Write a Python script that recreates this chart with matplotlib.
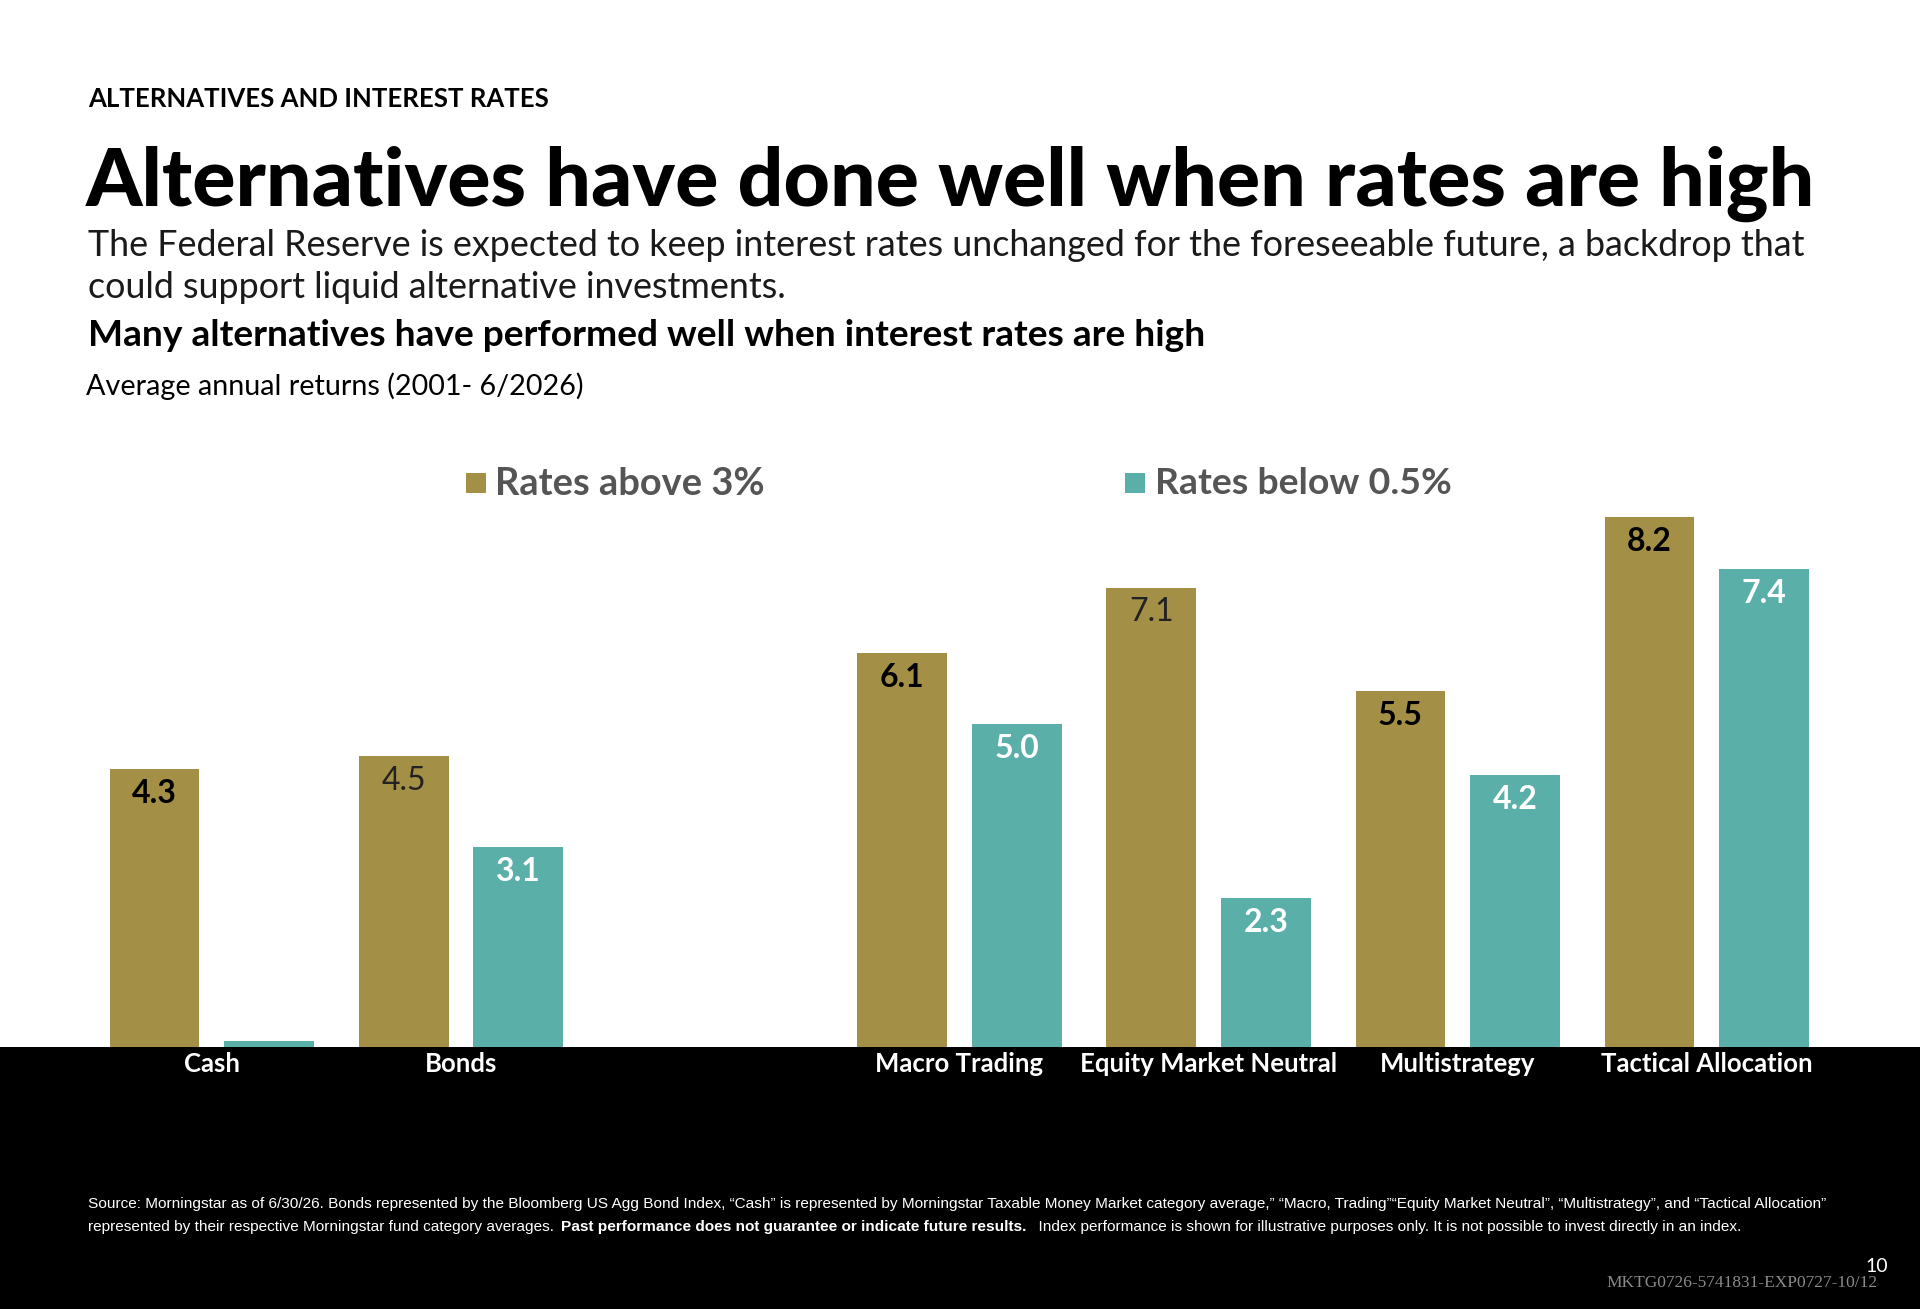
import matplotlib
matplotlib.use('Agg')
import matplotlib.pyplot as plt
from matplotlib.patches import Rectangle

# ---- data ----
categories = ['Cash', 'Bonds', '', 'Macro Trading', 'Equity Market Neutral',
              'Multistrategy', 'Tactical Allocation']
rates_above_3 = [4.3, 4.5, None, 6.1, 7.1, 5.5, 8.2]
rates_below_05 = [0.1, 3.1, None, 5.0, 2.3, 4.2, 7.4]
show_below_label = [False, True, None, True, True, True, True]
# some labels in the source are drawn in a light weight
light_above = [False, True, None, False, True, False, False]

series_names = ['Rates above 3%', 'Rates below 0.5%']
GOLD = '#A38F45'
TEAL = '#5AAFA9'

W, H = 1920, 1309
DPI = 100
FONT = ['Lato', 'DejaVu Sans']
NARROW = ['Liberation Sans Narrow', 'Liberation Sans', 'DejaVu Sans']

plt.rcParams['font.family'] = FONT

fig = plt.figure(figsize=(W / DPI, H / DPI), dpi=DPI)
fig.patch.set_facecolor('white')
renderer = fig.canvas.get_renderer()


def fx(px):
    return px / W


def fy(py):
    return 1 - py / H


def fit(t, width_px):
    """scale a text so its width matches width_px"""
    bb = t.get_window_extent(renderer)
    t.set_fontsize(t.get_fontsize() * width_px / bb.width)
    return t


# black band under the axis
fig.patches.append(Rectangle((0, 0), 1, fy(1047), transform=fig.transFigure,
                             facecolor='black', edgecolor='none', zorder=-1))

# ---- headings ----
t = fig.text(fx(88), fy(99), 'ALTERNATIVES AND INTEREST RATES', fontsize=16,
             weight='bold', va='center', ha='left', color='black')
fit(t, 460)
t = fig.text(fx(86), fy(184), 'Alternatives have done well when rates are high',
             fontsize=55, weight='black', va='center', ha='left', color='black')
fit(t, 1726)
t = fig.text(fx(88), fy(246), 'The Federal Reserve is expected to keep interest rates '
             'unchanged for the foreseeable future, a backdrop that',
             fontsize=23, va='center', ha='left', color='#1a1a1a')
fit(t, 1724)
fig.text(fx(88), fy(287), 'could support liquid alternative investments.',
         fontsize=t.get_fontsize(), va='center', ha='left', color='#1a1a1a')
t = fig.text(fx(88), fy(336), 'Many alternatives have performed well when interest rates are high',
             fontsize=22, weight='bold', va='center', ha='left', color='black')
fit(t, 1117)
t = fig.text(fx(86), fy(386), 'Average annual returns (2001- 6/2026)',
             fontsize=17, va='center', ha='left', color='black')
fit(t, 498)

# ---- legend ----
for (sx, tx, name, col) in [(466, 495, series_names[0], GOLD),
                            (1125, 1155, series_names[1], TEAL)]:
    fig.patches.append(Rectangle((fx(sx), fy(493)), fx(20), 20 / H,
                                 transform=fig.transFigure, facecolor=col,
                                 edgecolor='none'))
    t = fig.text(fx(tx), fy(484), name, fontsize=24, weight='bold',
                 color='#555555', va='center', ha='left')
    fit(t, 270 if col == GOLD else 297)

# ---- bars ----
ax = fig.add_axes([0, fy(1047), 1, (1047 - 400) / H])
ax.set_zorder(1)
ax.set_xlim(-0.85, 6.855)
ax.set_ylim(0, 10.006)
ax.axis('off')

bw = 0.36
off = 0.23
for i, cat in enumerate(categories):
    if rates_above_3[i] is None:
        continue
    a = rates_above_3[i]
    b = rates_below_05[i]
    ax.bar(i - off, a, width=bw, color=GOLD, edgecolor='none')
    ax.bar(i + off, b, width=bw, color=TEAL, edgecolor='none')
    if light_above[i]:
        ax.text(i - off, a - 0.38, f'{a:.1f}', ha='center', va='center',
                fontsize=23, color='#222222', weight='normal')
    else:
        ax.text(i - off, a - 0.38, f'{a:.1f}', ha='center', va='center',
                fontsize=23, color='black', weight='bold')
    if show_below_label[i]:
        ax.text(i + off, b - 0.38, f'{b:.1f}', ha='center', va='center',
                fontsize=23, color='white', weight='bold')
    ax.text(i, -0.27, cat, ha='center', va='center', fontsize=18.5,
            color='white', weight='bold', clip_on=False)

# ---- footnote ----
fs = 12.5
line1 = ('Source: Morningstar as of 6/30/26. Bonds represented by the Bloomberg US Agg '
         'Bond Index, \u201cCash\u201d is represented by Morningstar Taxable Money Market '
         'category average,\u201d \u201cMacro, Trading\u201d\u201cEquity Market Neutral\u201d, '
         '\u201cMultistrategy\u201d, and \u201cTactical Allocation\u201d')
t = fig.text(fx(88), fy(1204), line1, fontsize=fs, family=NARROW, color='white',
             va='center', ha='left')
fit(t, 1739)
fs = t.get_fontsize()

parts = [('represented by their respective Morningstar fund category averages. ', 'normal'),
         ('Past performance does not guarantee or indicate future results.', 'bold'),
         ('  Index performance is shown for illustrative purposes only. '
          'It is not possible to invest directly in an index.', 'normal')]
x0 = 88
for txt, wt in parts:
    t = fig.text(fx(x0), fy(1227), txt, fontsize=fs, family=NARROW, weight=wt,
                 color='white', va='center', ha='left')
    bb = t.get_window_extent(renderer)
    x0 += bb.width + 3

fig.text(fx(1888), fy(1266), '10', fontsize=14, color='white', ha='right', va='center')
fig.text(fx(1878), fy(1283), 'MKTG0726-5741831-EXP0727-10/12', fontsize=12.5,
         family=['Liberation Serif', 'DejaVu Serif'], color='#8a8a8a',
         ha='right', va='center')

fig.savefig('out.png', dpi=DPI, facecolor='white')
